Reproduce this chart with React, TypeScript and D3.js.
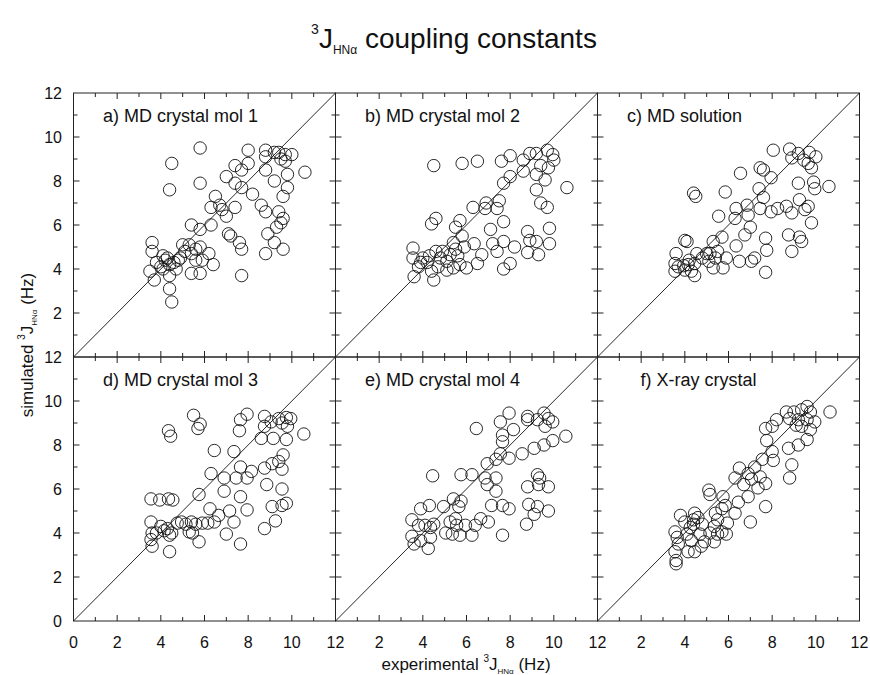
import React from "react";
import * as d3 from "d3";

type P = [number, number];

const panelTitles = [
  "a) MD crystal mol 1",
  "b) MD crystal mol 2",
  "c) MD solution",
  "d) MD crystal mol 3",
  "e) MD crystal mol 4",
  "f) X-ray crystal",
];

const mdCrystal1: P[] = [[5.8,9.5],[4.5,8.8],[4.4,7.6],[5.8,7.9],[8.0,9.4],[8.8,9.4],[9.2,9.3],[9.4,9.3],[9.7,9.2],[10.0,9.2],[8.8,9.1],[9.5,9.0],[8.0,8.8],[7.4,8.7],[7.7,8.5],[9.7,8.9],[10.6,8.4],[8.8,8.5],[9.8,8.3],[9.2,8.0],[7.0,8.2],[7.4,7.9],[7.7,7.7],[8.2,7.4],[9.8,7.7],[9.6,7.3],[8.6,6.9],[8.8,6.6],[9.4,6.6],[9.6,6.3],[9.5,6.1],[8.9,5.6],[9.3,5.9],[9.2,5.2],[9.6,4.9],[8.8,4.7],[6.5,7.3],[6.3,6.8],[6.7,6.9],[6.8,6.7],[7.0,6.4],[7.4,6.8],[6.3,6.0],[5.8,5.8],[5.4,6.0],[7.1,5.6],[7.2,5.5],[7.6,5.2],[7.7,4.9],[7.7,3.7],[6.4,4.2],[6.2,4.7],[5.8,5.0],[5.6,4.9],[5.4,4.7],[5.3,5.1],[5.1,4.8],[5.0,5.1],[5.6,4.4],[5.4,3.8],[5.8,3.8],[5.9,4.4],[3.6,5.2],[3.6,4.8],[4.1,4.6],[3.5,3.9],[3.7,3.5],[4.4,3.7],[4.4,3.1],[4.5,2.5],[3.8,4.3],[4.0,4.1],[4.2,4.4],[4.4,4.2],[4.6,4.3],[4.8,4.4],[4.1,4.0],[4.7,4.0],[4.9,4.5],[4.3,4.5]];

const mdCrystal2: P[] = [[4.5,8.7],[5.8,8.8],[6.5,8.9],[7.6,8.9],[8.0,9.15],[8.9,9.25],[8.6,8.95],[9.2,9.25],[9.7,9.4],[9.95,9.2],[10.0,8.95],[9.75,8.6],[9.4,8.7],[8.6,8.45],[8.0,8.2],[7.7,7.9],[9.2,8.3],[9.6,8.05],[10.6,7.7],[9.2,7.6],[9.4,7.0],[9.7,6.8],[7.5,7.1],[6.9,7.0],[6.85,6.75],[7.4,6.75],[6.3,6.8],[7.7,6.15],[7.1,5.8],[5.7,6.2],[5.5,5.9],[4.6,6.3],[4.4,6.05],[8.8,5.7],[8.9,5.3],[9.2,5.25],[9.8,5.85],[9.8,5.15],[8.2,5.0],[7.7,5.25],[7.4,4.8],[7.2,5.15],[8.8,4.75],[9.3,4.65],[8.0,4.25],[7.7,4.0],[6.5,4.25],[6.7,4.65],[6.35,5.15],[5.8,5.5],[5.9,5.0],[5.4,5.2],[5.5,4.9],[5.25,4.65],[5.6,4.6],[5.7,4.2],[5.4,4.05],[6.0,4.05],[5.1,4.35],[4.8,4.5],[4.9,4.8],[3.55,4.95],[3.55,4.5],[3.8,4.1],[3.6,3.65],[4.5,3.5],[4.0,4.5],[4.2,4.3],[4.4,3.9],[4.7,4.1],[3.9,4.3],[4.3,4.6],[5.1,3.95],[4.6,4.8]];

const mdSolution: P[] = [[8.05,9.4],[8.8,9.45],[8.9,9.05],[9.2,9.25],[9.7,9.3],[10.0,9.1],[9.45,8.95],[9.65,8.8],[9.8,8.6],[7.45,8.6],[7.6,8.5],[6.55,8.35],[7.95,8.15],[9.2,7.9],[9.9,7.95],[9.95,7.65],[10.6,7.75],[4.4,7.45],[4.5,7.3],[5.85,7.5],[7.4,7.65],[7.6,7.25],[9.25,7.15],[9.65,6.85],[9.5,6.7],[8.65,6.85],[8.25,6.75],[7.95,6.6],[7.45,6.75],[6.85,6.9],[6.35,6.75],[6.3,6.3],[6.9,6.45],[5.55,6.4],[7.0,5.9],[8.9,6.55],[9.8,6.1],[8.75,5.55],[9.25,5.45],[9.35,5.25],[8.9,4.8],[7.7,5.4],[7.75,4.85],[7.7,3.85],[7.2,4.5],[7.05,4.35],[6.5,4.35],[6.75,5.55],[6.35,5.05],[5.7,5.45],[5.5,4.8],[5.3,5.25],[5.15,4.7],[5.4,4.5],[5.9,4.5],[5.75,4.05],[5.3,4.05],[5.1,4.35],[4.0,5.3],[4.1,5.25],[3.6,4.7],[3.55,4.25],[3.7,4.1],[3.95,4.15],[4.15,4.2],[4.3,3.9],[4.45,3.7],[4.45,4.25],[4.55,4.7],[4.8,4.5],[5.0,4.7],[3.55,3.9],[4.0,3.95],[4.2,4.4]];

const mdCrystal3: P[] = [[4.35,8.65],[4.45,8.4],[5.5,9.35],[5.8,8.95],[5.7,8.75],[7.95,9.4],[7.65,9.15],[7.6,8.65],[8.75,9.3],[8.75,8.85],[9.05,9.05],[9.4,9.2],[9.75,9.25],[9.95,9.2],[9.55,9.0],[9.8,8.85],[10.55,8.5],[8.6,8.3],[9.15,8.3],[9.75,8.25],[6.45,7.75],[7.35,7.7],[9.6,7.55],[9.4,7.25],[9.1,7.15],[9.55,6.9],[8.75,6.95],[7.65,7.0],[8.15,6.8],[7.95,6.5],[7.45,6.5],[6.3,6.7],[6.9,6.5],[6.9,5.9],[7.65,5.65],[8.85,6.2],[9.55,6.0],[5.75,5.75],[9.1,5.2],[9.55,5.25],[9.75,5.35],[9.25,4.55],[8.75,4.2],[7.95,5.05],[7.15,5.0],[7.35,4.5],[7.0,3.95],[7.65,3.5],[6.25,5.1],[6.65,4.8],[6.45,4.5],[6.15,4.45],[5.9,4.45],[5.6,4.4],[5.4,4.5],[5.15,4.4],[4.95,4.5],[4.75,4.45],[5.45,4.0],[5.3,4.05],[5.75,3.6],[3.55,5.55],[3.95,5.5],[4.35,5.55],[4.55,5.5],[3.55,4.5],[3.6,4.0],[3.55,3.7],[3.6,3.4],[4.4,3.15],[3.8,4.0],[4.0,4.3],[4.3,4.2],[4.4,3.9],[4.5,4.0],[4.15,4.1]];

const mdCrystal4: P[] = [[6.45,8.75],[7.95,9.45],[7.55,9.05],[8.15,8.7],[7.65,8.45],[8.8,9.3],[8.8,9.15],[9.55,9.45],[9.75,9.2],[9.25,9.15],[9.6,8.85],[9.95,9.05],[10.55,8.4],[9.95,8.2],[9.55,8.0],[9.1,7.85],[8.55,7.6],[7.65,8.15],[7.55,7.6],[7.95,7.4],[7.35,7.35],[6.95,7.15],[6.25,6.65],[5.75,6.65],[4.45,6.6],[6.85,6.5],[7.35,6.5],[6.95,6.2],[7.35,5.9],[9.25,6.65],[9.35,6.5],[8.8,6.1],[9.3,6.2],[9.75,6.1],[8.85,5.3],[9.25,5.2],[9.1,4.85],[9.75,5.0],[8.75,4.4],[7.65,3.9],[7.95,5.1],[7.65,5.25],[7.15,5.25],[7.0,4.5],[6.65,4.65],[6.4,4.35],[6.25,3.9],[5.95,4.35],[5.7,3.9],[5.55,4.35],[5.35,3.95],[5.5,4.65],[5.65,5.2],[5.75,5.45],[5.4,5.55],[5.25,4.5],[5.05,4.0],[4.95,5.2],[3.9,5.1],[4.3,5.25],[3.5,4.6],[3.8,4.35],[4.1,4.35],[4.35,4.25],[3.5,3.85],[3.6,3.5],[3.9,3.65],[4.25,3.3],[4.35,3.8],[4.5,4.4]];

const xrayCrystal: P[] = [[10.65,9.5],[9.6,9.75],[9.75,9.5],[9.35,9.6],[9.0,9.5],[8.65,9.5],[8.8,9.2],[9.2,9.15],[9.6,9.15],[9.95,9.05],[9.35,8.85],[9.75,8.7],[9.1,8.9],[8.2,9.15],[8.0,8.85],[7.7,8.75],[7.75,8.2],[9.2,8.0],[9.6,8.25],[8.75,7.85],[8.0,7.7],[8.05,7.3],[7.55,7.35],[8.9,7.1],[8.8,6.5],[7.2,7.0],[7.45,6.55],[7.7,6.25],[7.05,6.45],[6.9,6.7],[6.5,6.95],[6.3,6.5],[6.7,6.2],[7.35,6.05],[6.9,5.65],[6.45,5.4],[7.7,5.2],[7.0,4.5],[5.1,5.95],[5.15,5.75],[5.75,5.65],[5.85,5.25],[5.7,5.1],[6.3,4.9],[5.4,4.9],[5.5,4.6],[5.35,4.3],[5.7,4.05],[5.9,3.95],[5.95,4.45],[5.35,3.6],[5.5,3.95],[5.15,4.0],[4.45,4.9],[4.4,4.6],[3.8,4.8],[4.4,4.4],[4.25,4.25],[4.8,4.4],[4.7,3.95],[3.55,4.05],[3.65,3.8],[4.1,3.95],[4.3,3.65],[3.7,3.5],[3.55,3.15],[4.15,3.15],[4.45,3.15],[4.75,3.4],[3.6,2.75],[3.6,2.6],[4.0,4.5],[4.6,4.7],[4.9,3.6]];

const panelData: P[][] = [mdCrystal1, mdCrystal2, mdSolution, mdCrystal3, mdCrystal4, xrayCrystal];
const tickValues = [0, 1, 2, 3, 4, 5, 6, 7, 8, 9, 10, 11, 12];
const labelValues = [0, 2, 4, 6, 8, 10, 12];

const W = 870, H = 675;
const LEFT = 73.5, PW = 262, TOP = 93, PH = 264;
const FONT = "'Liberation Sans', Arial, Helvetica, sans-serif";
const labelOffsets = [29.5, 29.5, 29.5, 29.5, 29.5, 43];

export default function App() {
  const panels = panelData.map((pts, i) => {
    const col = i % 3, row = Math.floor(i / 3);
    const x = d3.scaleLinear().domain([0, 12]).range([LEFT + col * PW, LEFT + (col + 1) * PW]);
    const y = d3.scaleLinear().domain([0, 12]).range([TOP + (row + 1) * PH, TOP + row * PH]);
    return { pts, col, row, x, y, i };
  });

  return (
    <svg width={W} height={H} style={{ position: "absolute", left: 0, top: 0, background: "#fff" }} fontFamily={FONT}>
      <rect x={0} y={0} width={W} height={H} fill="#fff" />
      {/* title */}
      <text x={454} y={48} textAnchor="middle" fontSize={28} fill="#111">
        <tspan fontSize={14} dy={-14}>3</tspan>
        <tspan dy={14}>J</tspan>
        <tspan fontSize={12} dy={6}>HNα</tspan>
        <tspan dy={-6}> coupling constants</tspan>
      </text>
      {panels.map(({ pts, x, y, i, col, row }) => {
        const [x0, x1] = x.range();
        const [y0, y1] = y.range();
        return (
          <g key={i}>
            <rect x={x0} y={y1} width={x1 - x0} height={y0 - y1} fill="none" stroke="#222" strokeWidth={1} />
            <line x1={x(0)} y1={y(0)} x2={x(12)} y2={y(12)} stroke="#111" strokeWidth={0.9} />
            {tickValues.slice(1, -1).map((t) => {
              const len = t % 2 === 0 ? 6 : 4;
              return (
                <g key={t} stroke="#222" strokeWidth={1}>
                  <line x1={x(t)} x2={x(t)} y1={y0} y2={y0 - len} />
                  <line x1={x(t)} x2={x(t)} y1={y1} y2={y1 + len} />
                  <line x1={x0} x2={x0 + len} y1={y(t)} y2={y(t)} />
                  <line x1={x1} x2={x1 - len} y1={y(t)} y2={y(t)} />
                </g>
              );
            })}
            {pts.map((p, k) => (
              <circle key={k} cx={x(p[0])} cy={y(p[1])} r={6.2} fill="none" stroke="#111" strokeWidth={0.9} />
            ))}
            <text x={x0 + labelOffsets[i]} y={y1 + 28.7} fontSize={18} fill="#111">{panelTitles[i]}</text>
            {row === 1 &&
              labelValues.filter((v) => col === 0 || v > 0).map((v) => (
                <text key={"xl" + v} x={x(v)} y={648} textAnchor="middle" fontSize={16} fill="#111">{v}</text>
              ))}
            {col === 0 &&
              labelValues.filter((v) => row === 1 || v > 0).map((v) => (
                <text key={"yl" + v} x={62} y={y(v)} dy="0.35em" textAnchor="end" fontSize={16} fill="#111">{v}</text>
              ))}
          </g>
        );
      })}
      {/* x axis title */}
      <text x={466} y={670} textAnchor="middle" fontSize={17} fill="#111">
        <tspan>experimental </tspan>
        <tspan fontSize={10} dy={-8}>3</tspan>
        <tspan dy={8}>J</tspan>
        <tspan fontSize={8} dy={4}>HNα</tspan>
        <tspan dy={-4}> (Hz)</tspan>
      </text>
      {/* y axis title */}
      <text transform="translate(33,345) rotate(-90)" textAnchor="middle" fontSize={17} fill="#111">
        <tspan>simulated </tspan>
        <tspan fontSize={10} dy={-8}>3</tspan>
        <tspan dy={8}>J</tspan>
        <tspan fontSize={8} dy={4}>HNα</tspan>
        <tspan dy={-4}> (Hz)</tspan>
      </text>
    </svg>
  );
}
